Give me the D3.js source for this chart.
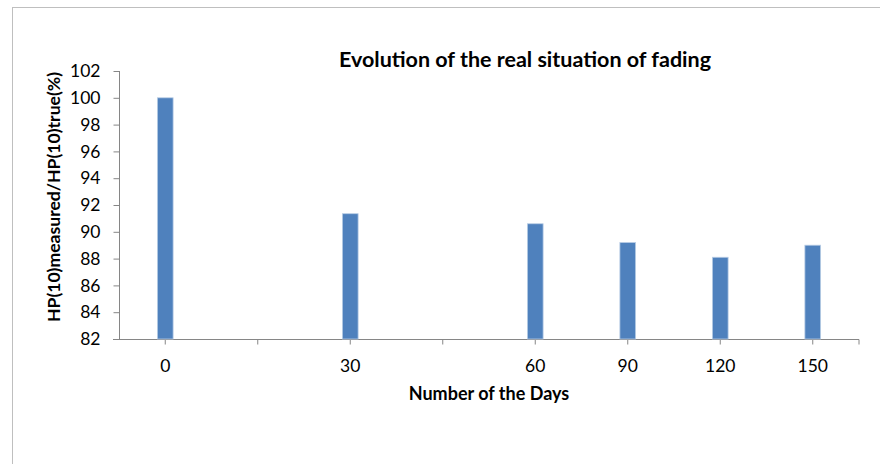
<!DOCTYPE html>
<html>
<head>
<meta charset="utf-8">
<script src="https://cdn.jsdelivr.net/npm/d3@7"></script>
<style>
  html, body { margin: 0; padding: 0; background: #fff; }
  svg { display: block; }
</style>
</head>
<body>
<svg id="chart" width="880" height="464"></svg>
<script>
const categories = ["0", "", "30", "", "60", "90", "120", "150"];
const values = [100, null, 91.35, null, 90.6, 89.2, 88.1, 89.0];
const yTicks = [82, 84, 86, 88, 90, 92, 94, 96, 98, 100, 102];
const titleText = "Evolution of the real situation of fading";
const xTitle = "Number of the Days";
const yTitle = "HP(10)measured/HP(10)true(%)";

const svg = d3.select("#chart");
const font = "Lato, 'Open Sans', sans-serif";

// outer frame
svg.append("rect")
  .attr("x", 12.5).attr("y", 7.5)
  .attr("width", 880).attr("height", 470)
  .attr("fill", "none").attr("stroke", "#bfbfbf").attr("stroke-width", 1);

const pLeft = 119, pRight = 859, pTop = 71, pBottom = 339;

const x = d3.scaleBand().domain(d3.range(categories.length)).range([pLeft, pRight]).padding(0);
const y = d3.scaleLinear().domain([82, 102]).range([pBottom, pTop]);

const axisColor = "#868686";

// y axis
const yAxis = svg.append("g").attr("transform", `translate(${pLeft + 0.5},0)`)
  .call(d3.axisLeft(y).tickValues(yTicks).tickSize(6).tickPadding(13).tickFormat(d3.format("d")));
yAxis.select(".domain").attr("stroke", axisColor).attr("d", `M0,${pTop}V${pBottom}`);
yAxis.selectAll(".tick line").attr("stroke", axisColor);
yAxis.selectAll(".tick text").attr("font-family", font).attr("font-size", 17.5).attr("fill", "#000");

// x axis
const xAxis = svg.append("g").attr("transform", `translate(0,${pBottom + 0.5})`)
  .call(d3.axisBottom(x).tickFormat(i => categories[i]).tickSize(5).tickPadding(15));
xAxis.select(".domain").attr("stroke", axisColor).attr("d", `M${pLeft - 6},0H${pRight}V5`);
xAxis.selectAll(".tick line").attr("stroke", axisColor);
xAxis.selectAll(".tick text").attr("font-family", font).attr("font-size", 17.5).attr("fill", "#000");

// bars
const barW = x.bandwidth() * 0.17;
svg.append("g").selectAll("rect")
  .data(values.map((v, i) => ({ v, i })).filter(d => d.v != null))
  .join("rect")
  .attr("x", d => x(d.i) + x.bandwidth() / 2 - barW / 2)
  .attr("y", d => y(d.v))
  .attr("width", barW)
  .attr("height", d => pBottom - y(d.v))
  .attr("fill", "#4f81bd")
  .attr("stroke", "#b9cde5")
  .attr("stroke-width", 0.8);

// titles
svg.append("text")
  .attr("x", 525).attr("y", 67)
  .attr("text-anchor", "middle")
  .attr("font-family", font).attr("font-weight", "bold").attr("font-size", 21.5)
  .attr("fill", "#000")
  .text(titleText);

svg.append("text")
  .attr("x", 489).attr("y", 400)
  .attr("text-anchor", "middle")
  .attr("font-family", font).attr("font-weight", "bold").attr("font-size", 18)
  .attr("fill", "#000")
  .text(xTitle);

svg.append("text")
  .attr("transform", `translate(60,197) rotate(-90)`)
  .attr("text-anchor", "middle")
  .attr("font-family", font).attr("font-weight", "bold").attr("font-size", 17.6)
  .attr("fill", "#000")
  .text(yTitle);
</script>
</body>
</html>
